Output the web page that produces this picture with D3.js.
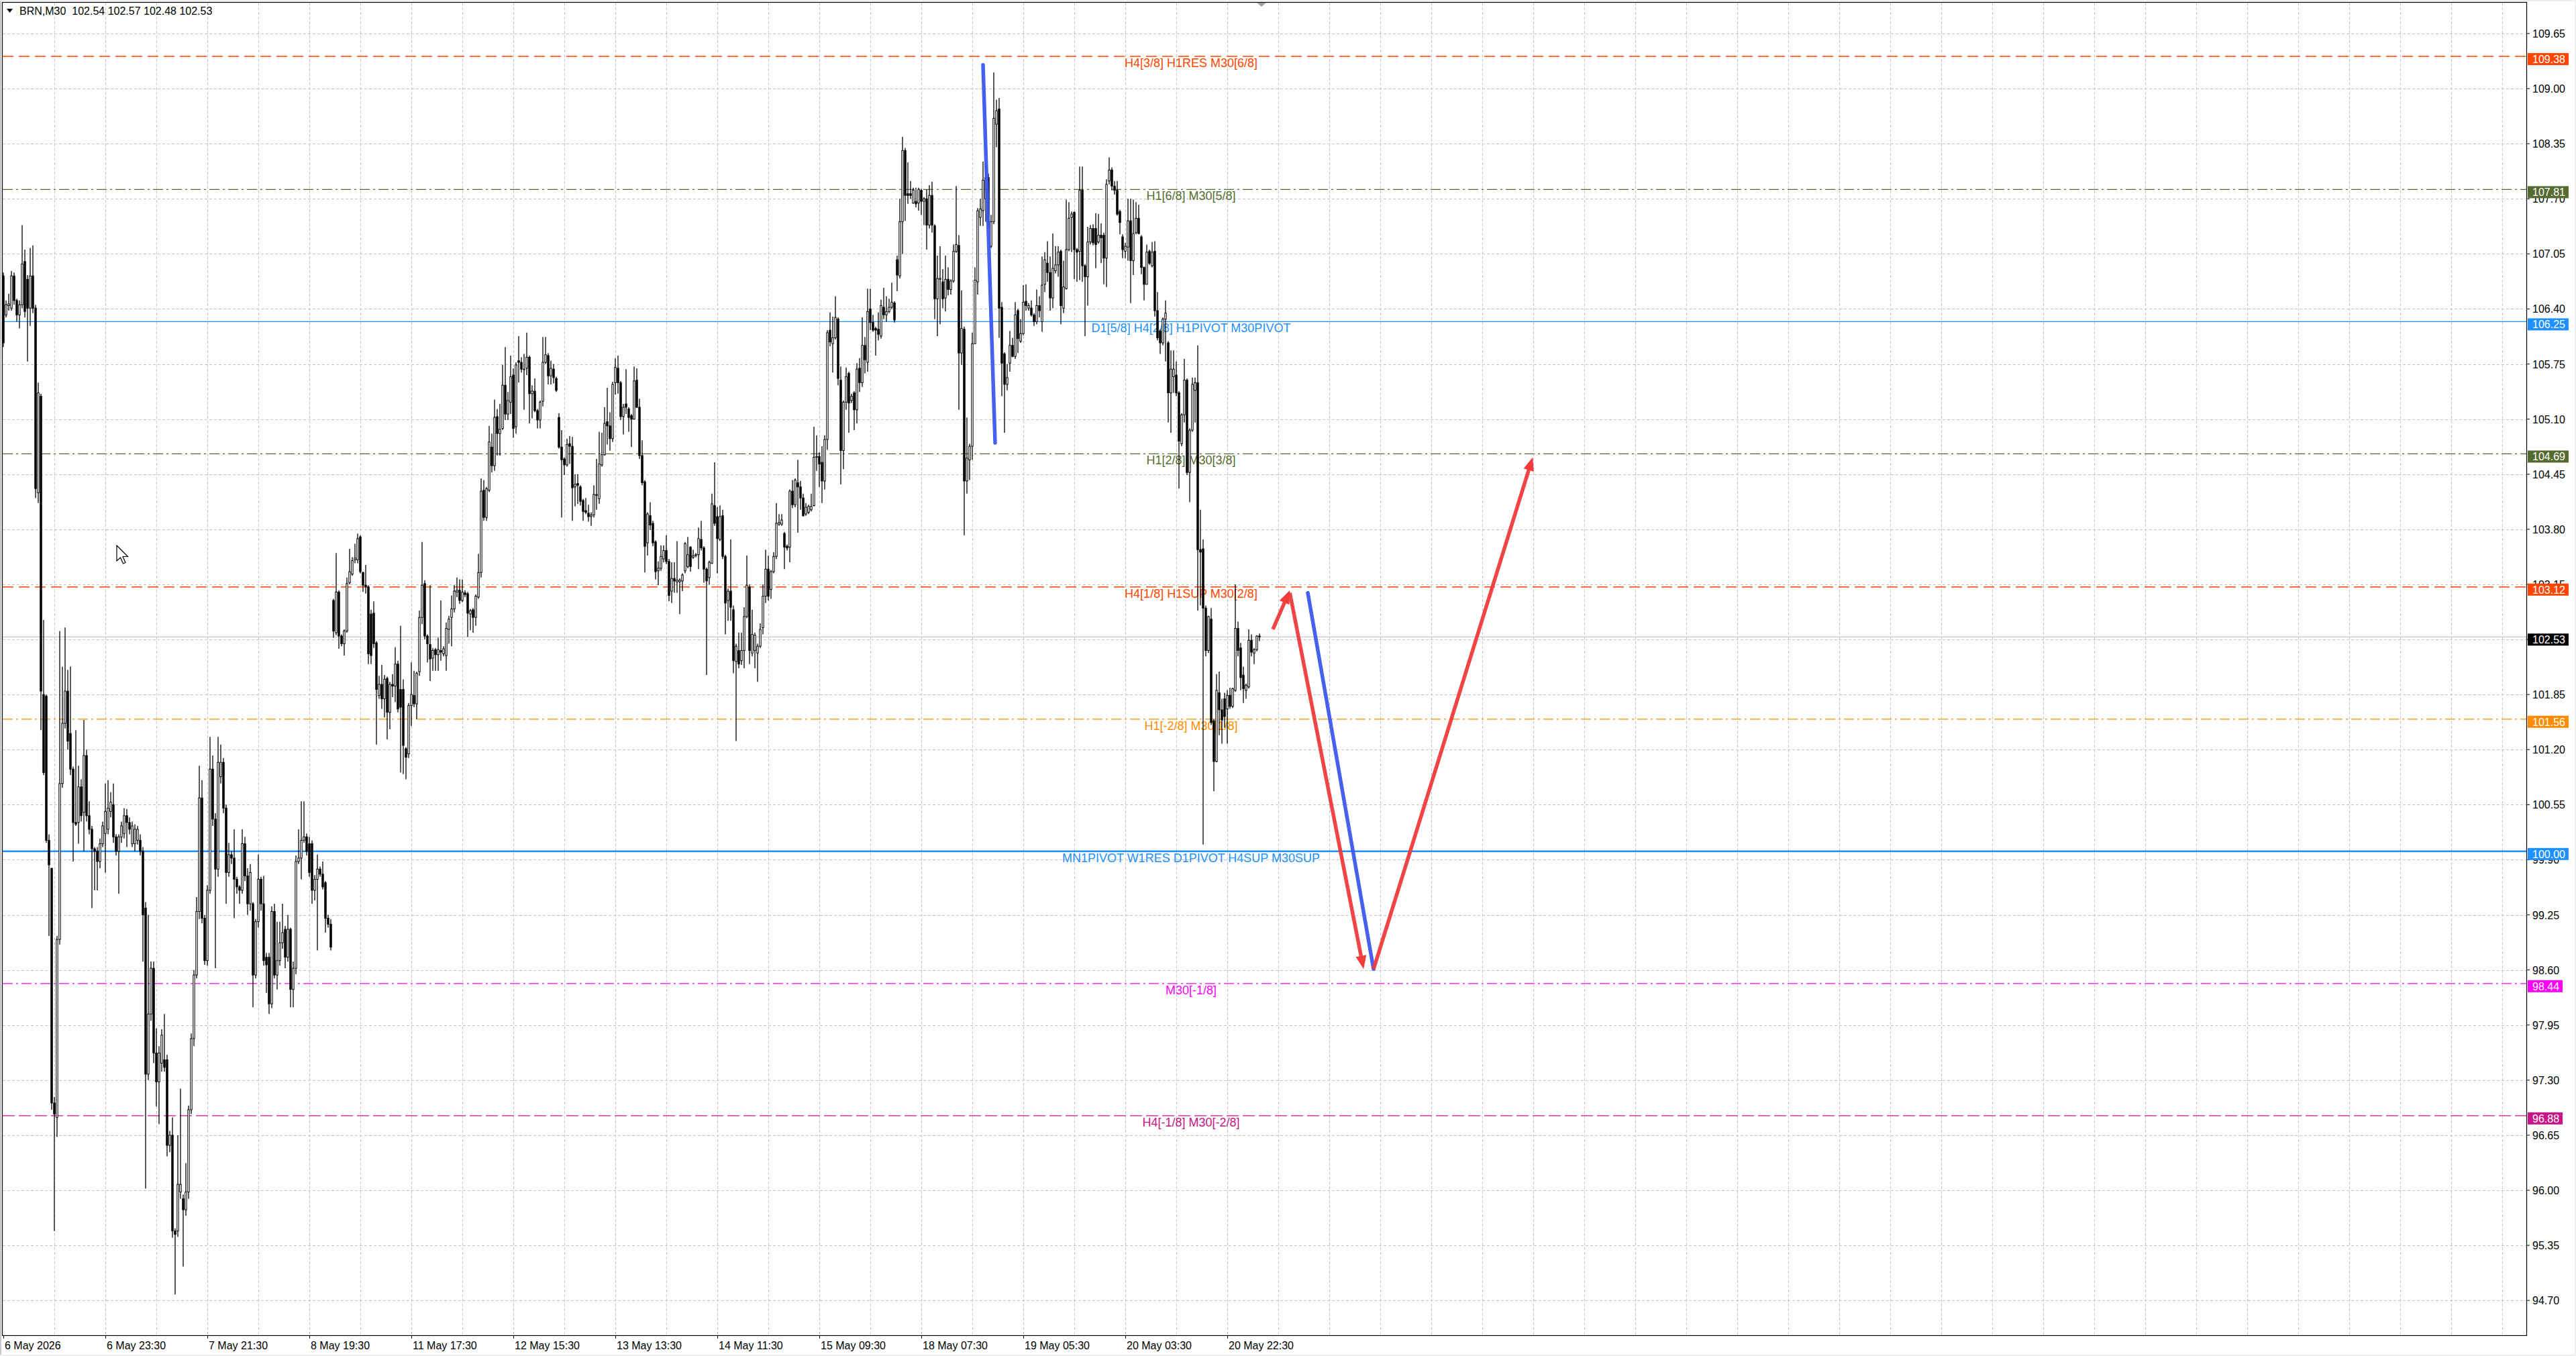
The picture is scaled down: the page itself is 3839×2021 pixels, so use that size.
<!DOCTYPE html>
<html>
<head>
<meta charset="utf-8">
<title>BRN,M30</title>
<script src="https://cdn.jsdelivr.net/npm/d3@7"></script>
<style>
  html, body { margin: 0; padding: 0; background: #f0f0f0; overflow: hidden; }
  svg { display: block; font-family: "Liberation Sans", Arial, sans-serif; }
</style>
</head>
<body>
<svg id="chart"></svg>
<script>
// ---- candles (M30 bars, index 0 = first bar on screen) ----
const opens = [
  106.79,106.33,106.44,106.41,106.79,106.50,106.33,106.45,106.96,106.75,
  106.41,106.79,106.41,104.23,105.37,101.85,101.83,100.13,99.80,97.03,
  96.86,98.96,100.80,101.51,101.89,101.39,100.97,100.34,100.34,100.76,
  100.46,101.13,100.42,100.26,100.03,100.00,99.88,100.09,100.21,100.26,
  100.47,100.55,100.17,100.00,100.17,100.21,100.42,100.34,100.09,100.09,
  100.13,100.13,100.00,99.33,97.37,98.08,98.62,97.62,97.28,97.50,
  97.54,97.54,96.53,96.65,95.52,95.52,95.98,95.90,95.77,95.98,
  96.95,97.79,98.54,99.29,100.63,99.21,98.71,99.54,100.97,100.38,
  99.79,100.88,101.05,100.51,99.75,99.96,99.92,99.67,99.58,99.54,
  100.09,99.71,99.38,99.38,98.54,99.17,99.67,99.38,98.75,98.75,
  98.20,99.29,98.54,98.71,98.92,99.08,98.75,99.08,98.37,98.62,
  99.88,99.92,100.13,100.17,100.09,100.09,99.54,99.67,99.79,99.73,
  99.63,99.21,99.14,102.96,102.58,103.06,102.54,102.45,102.60,103.17,
  103.27,103.44,103.44,103.71,103.29,103.14,103.12,102.80,102.81,102.46,
  101.84,101.97,101.80,102.04,101.64,101.97,101.95,102.21,101.91,101.91,
  101.21,101.15,101.72,101.84,101.74,102.12,102.76,103.16,102.54,102.44,
  102.28,102.38,102.32,102.37,102.33,102.31,102.62,102.76,102.86,103.06,
  103.08,102.96,103.05,103.04,102.80,102.85,102.76,103.00,103.29,104.26,
  103.94,104.26,104.77,104.55,105.13,104.93,104.99,105.50,105.16,105.30,
  105.62,105.01,105.79,105.77,105.69,105.70,105.83,105.40,105.43,105.20,
  105.09,105.31,105.77,105.85,105.61,105.69,105.58,105.12,104.77,104.63,
  104.56,104.81,104.78,104.30,104.34,104.30,104.14,104.02,103.99,103.95,
  103.97,104.20,104.16,104.56,104.68,105.07,105.02,104.87,105.53,105.70,
  105.53,105.13,105.28,105.22,105.14,105.10,105.56,105.24,104.67,104.36,
  103.64,103.96,103.87,103.65,103.31,103.34,103.45,103.55,103.42,103.07,
  103.22,103.18,103.18,103.19,103.31,103.36,103.59,103.47,103.49,103.50,
  103.68,103.58,103.33,103.23,103.40,104.08,103.95,103.68,103.96,103.48,
  102.96,103.07,102.85,102.24,102.37,102.25,102.37,102.77,103.12,102.34,
  102.37,102.34,102.42,102.64,103.01,103.33,103.09,103.30,103.48,103.86,
  103.86,103.75,103.60,103.59,104.25,104.09,104.35,104.30,104.17,103.98,
  104.00,104.03,104.08,104.65,104.66,104.59,104.37,104.86,106.15,105.99,
  106.06,106.28,105.56,104.73,105.30,105.64,105.32,105.41,105.21,105.70,
  105.53,105.97,105.77,106.40,106.24,106.17,106.16,106.08,106.42,106.33,
  106.37,106.42,106.47,106.98,106.79,107.43,108.27,107.76,107.76,107.65,
  107.67,107.65,107.80,107.67,107.70,107.39,107.74,107.38,106.52,106.75,
  106.72,106.53,106.75,106.63,106.73,107.08,107.15,105.88,106.16,104.37,
  104.62,104.78,105.99,106.72,107.48,107.56,107.70,107.95,107.14,107.43,
  108.58,108.76,106.42,105.87,105.51,105.76,105.97,105.84,106.38,106.02,
  106.11,106.49,106.41,106.41,106.33,106.25,106.44,106.25,106.69,106.94,
  106.83,106.53,106.85,106.92,107.08,106.41,106.64,107.10,107.48,107.54,
  107.10,107.08,107.80,106.91,106.78,107.19,107.35,107.35,107.19,107.27,
  107.27,107.00,107.91,108.04,107.85,107.80,107.55,107.25,107.08,107.13,
  107.44,106.97,107.30,107.47,107.25,106.89,106.69,107.08,106.91,107.08,
  106.38,106.14,106.00,106.28,106.00,105.41,105.60,105.62,105.41,104.81,
  105.15,105.56,104.47,104.97,105.44,105.53,103.56,103.57,102.87,102.37,
  102.74,101.54,101.06,101.87,101.67,101.80,101.68,101.84,101.71,101.90,
  102.63,102.40,102.08,101.90,101.94,102.49,102.34,102.38,102.54
];
const highs = [
  106.83,106.50,106.58,106.85,106.83,106.52,106.50,107.39,107.10,106.80,
  107.12,107.15,106.45,105.53,105.40,102.73,101.85,100.20,99.80,97.10,
  99.00,102.60,102.18,102.64,102.14,102.18,101.00,101.43,101.01,100.85,
  101.55,101.20,100.59,100.30,100.05,100.05,100.15,100.35,100.80,100.84,
  100.70,100.80,100.20,100.20,100.35,100.51,100.50,100.40,100.35,100.32,
  100.30,100.20,100.05,99.40,99.25,98.70,98.70,97.91,97.70,97.90,
  98.08,97.60,96.70,96.86,95.55,96.65,97.20,95.95,96.32,97.00,
  97.85,98.60,99.46,101.01,100.84,99.25,99.60,101.35,101.13,100.45,
  101.35,101.26,101.10,100.55,100.10,100.00,100.26,99.70,99.60,100.26,
  100.17,99.80,99.85,99.40,99.20,99.96,99.70,99.71,98.80,98.80,
  99.35,99.38,99.17,99.17,99.38,99.12,99.25,99.10,98.70,99.95,
  100.26,100.59,100.59,100.21,100.17,100.13,99.72,99.96,99.82,99.88,
  99.65,99.25,99.20,102.98,103.52,103.08,102.56,102.62,103.23,103.57,
  103.47,103.63,103.75,103.73,103.30,103.38,103.14,102.85,102.95,102.48,
  102.07,102.20,102.08,102.06,102.00,102.09,102.41,102.25,102.66,102.03,
  101.23,101.75,102.23,102.13,102.12,102.84,103.65,103.20,102.56,103.14,
  102.40,102.40,102.52,102.96,102.42,102.70,102.78,103.02,103.14,103.23,
  103.21,103.21,103.08,103.06,102.86,102.87,103.03,103.51,104.40,104.38,
  104.30,105.02,104.93,105.33,105.22,105.28,105.74,105.95,105.42,105.85,
  105.70,105.77,106.08,105.83,105.87,106.12,105.85,105.50,105.58,105.22,
  105.32,106.07,106.07,105.88,105.79,105.75,105.60,105.17,104.97,104.65,
  104.87,104.90,104.89,104.45,104.45,104.32,104.16,104.17,104.09,104.00,
  104.32,104.63,104.95,104.94,105.24,105.47,105.18,105.54,105.82,105.85,
  105.55,105.28,105.69,105.24,105.16,105.72,105.70,105.34,104.85,104.38,
  104.00,104.12,103.90,103.67,103.42,103.61,103.61,103.73,103.45,103.41,
  103.41,103.66,103.22,103.28,103.65,103.71,103.60,103.56,103.52,103.82,
  103.90,103.60,103.35,103.43,104.22,104.59,104.06,104.08,104.03,103.50,
  103.10,103.68,102.90,102.45,102.58,102.58,102.88,103.49,103.15,102.85,
  102.58,102.45,102.69,103.15,103.56,103.49,103.32,103.53,104.11,103.98,
  103.98,103.77,103.62,104.27,104.38,104.40,104.62,104.37,104.22,104.11,
  104.09,104.22,105.01,104.91,104.71,104.78,104.91,106.15,106.36,106.31,
  106.55,106.30,105.72,105.32,105.71,105.66,105.40,105.43,105.76,105.82,
  106.30,106.07,106.64,106.64,106.33,106.19,106.36,106.51,106.65,106.55,
  106.52,106.71,106.49,107.03,107.70,108.43,108.30,108.13,107.91,107.83,
  107.83,107.83,107.82,107.72,107.81,107.86,107.90,107.40,107.03,107.14,
  106.87,107.03,106.89,106.75,107.16,107.85,107.27,106.62,106.19,105.12,
  104.81,106.12,106.89,107.59,107.70,108.14,108.10,108.00,107.51,109.19,
  108.87,108.89,106.48,105.89,105.75,106.14,106.06,106.48,106.40,106.28,
  106.68,106.69,106.47,106.50,106.35,106.63,106.55,107.02,107.07,107.20,
  107.02,107.29,107.14,107.14,107.10,106.97,107.69,107.66,107.55,107.55,
  107.12,108.08,108.08,106.93,107.37,107.39,107.40,107.53,107.52,107.41,
  107.30,107.93,108.19,108.07,107.91,107.91,107.57,107.28,107.18,107.70,
  107.70,107.69,107.66,107.63,107.27,106.90,107.16,107.10,107.19,107.20,
  106.60,106.16,106.30,106.50,106.02,105.91,105.91,105.78,105.43,105.17,
  105.81,105.58,104.99,105.59,105.59,105.97,104.03,103.68,102.90,102.78,
  102.87,101.56,102.09,102.12,101.80,101.87,101.90,101.93,101.93,103.15,
  102.71,102.46,102.18,101.98,102.62,102.56,102.40,102.55,102.57
];
const lows = [
  105.95,106.30,106.38,106.38,106.45,106.25,106.17,106.41,106.30,105.78,
  106.20,106.35,104.17,104.11,101.43,100.90,100.10,99.00,96.95,95.52,
  96.63,98.90,100.75,101.45,101.20,100.90,99.88,100.30,100.09,100.35,
  100.00,100.35,100.20,99.33,99.54,99.54,99.80,100.05,99.75,100.20,
  100.40,100.10,99.95,99.50,100.10,100.15,100.05,100.20,100.05,100.00,
  100.08,99.95,98.70,96.02,97.30,98.00,97.50,96.99,96.78,97.40,
  97.40,96.40,96.45,95.44,94.77,95.45,95.90,95.10,95.70,95.90,
  96.90,97.70,98.50,99.20,99.15,98.66,98.65,99.50,100.30,98.62,
  99.70,100.80,100.45,99.38,99.70,99.85,99.21,99.50,99.38,99.50,
  99.65,99.25,99.30,98.16,98.50,99.10,99.30,98.65,98.33,98.08,
  98.15,98.50,98.37,98.65,98.85,98.62,98.70,98.16,98.16,98.55,
  99.85,99.67,100.10,99.95,99.70,99.38,99.42,98.83,99.70,99.55,
  99.04,99.10,98.83,102.52,102.55,102.39,102.42,102.31,102.58,103.15,
  103.25,103.40,103.40,103.28,103.06,103.04,102.21,102.21,102.40,101.26,
  101.80,101.68,101.58,101.32,101.44,101.82,101.76,101.64,100.93,100.91,
  100.85,101.10,101.48,101.70,101.56,102.07,102.68,102.50,102.23,102.01,
  102.13,102.13,102.13,102.25,102.30,102.13,102.45,102.42,102.82,103.00,
  102.92,102.94,103.00,102.53,102.61,102.58,102.66,102.98,103.23,103.90,
  103.90,104.24,104.47,104.49,104.67,104.67,104.97,105.09,105.09,105.16,
  104.88,104.93,105.53,105.65,105.21,105.62,105.05,105.11,105.18,104.99,
  104.99,105.25,105.75,105.51,105.51,105.52,105.42,104.75,103.94,104.44,
  104.54,104.57,103.90,104.07,104.10,104.08,103.90,103.98,103.89,103.84,
  103.94,104.03,104.10,104.54,104.67,104.80,104.73,104.83,105.39,105.40,
  105.09,104.92,105.16,104.95,104.77,105.10,105.23,104.63,104.32,103.29,
  103.49,103.79,103.60,103.21,103.14,103.31,103.41,103.39,102.95,102.93,
  103.05,103.05,102.80,103.07,103.28,103.34,103.30,103.45,103.47,103.33,
  103.55,103.17,102.08,103.15,103.39,103.84,103.28,103.66,103.45,102.56,
  102.72,102.72,102.10,101.30,102.16,102.20,102.16,102.75,102.21,102.30,
  102.16,102.00,102.40,102.56,102.93,102.96,102.98,103.28,103.45,103.84,
  103.84,103.33,103.55,103.41,104.05,104.06,103.76,104.03,103.95,103.96,
  103.98,104.01,104.07,104.49,104.30,104.11,104.27,104.74,105.96,105.65,
  106.04,105.50,104.33,104.51,105.21,104.94,105.29,104.97,105.05,105.42,
  105.48,105.64,105.66,106.15,106.13,105.85,106.03,106.05,106.28,106.25,
  106.35,106.40,106.24,106.61,106.76,107.05,107.44,107.64,107.70,107.64,
  107.60,107.56,107.51,107.39,107.10,107.35,107.30,106.28,106.08,106.22,
  106.41,106.37,106.56,106.57,106.71,107.06,105.21,105.74,103.73,104.22,
  104.38,104.62,105.99,106.57,107.38,107.38,107.43,107.35,107.12,107.40,
  108.31,106.06,105.37,104.94,105.44,105.66,105.83,105.81,105.88,106.00,
  106.09,106.38,106.38,106.31,106.20,106.22,106.30,106.13,106.60,106.72,
  106.38,106.41,106.82,106.78,106.22,106.35,106.63,107.08,107.07,106.75,
  106.72,106.74,106.72,106.08,106.44,107.16,107.15,106.88,107.17,106.94,
  106.69,106.66,107.87,107.80,107.75,107.50,107.28,107.00,107.00,106.97,
  106.47,106.80,107.28,107.28,106.81,106.50,106.69,106.92,106.89,106.31,
  106.03,105.87,105.97,105.78,105.06,104.94,105.41,105.37,104.28,104.78,
  105.06,104.44,104.12,104.95,105.06,102.84,102.90,100.08,102.30,102.34,
  101.49,100.71,101.05,101.37,101.27,101.46,101.27,101.68,101.69,101.88,
  102.30,101.90,101.75,101.80,101.92,102.30,102.21,102.36,102.48
];
const closes = [
  106.00,106.45,106.46,106.79,106.50,106.33,106.45,106.93,106.37,106.41,
  106.79,106.41,104.28,105.41,101.89,100.93,100.13,99.84,97.03,96.90,
  98.96,100.80,101.51,101.89,101.30,100.97,100.34,100.32,100.76,100.42,
  101.13,100.42,100.26,100.03,100.00,99.88,100.09,100.30,100.47,100.51,
  100.58,100.17,100.00,100.17,100.30,100.42,100.34,100.26,100.30,100.26,
  100.26,100.00,99.25,97.37,98.08,98.62,97.62,97.28,97.62,97.83,
  97.45,96.53,96.65,95.52,95.48,96.07,96.07,95.77,95.98,96.95,
  97.79,98.54,99.29,100.63,99.21,98.71,99.54,100.97,100.38,99.79,
  101.05,101.05,100.51,99.75,99.96,99.92,99.67,99.58,99.54,100.09,
  99.71,99.38,99.75,98.54,99.17,99.67,99.38,98.71,98.66,98.20,
  99.29,98.54,98.71,98.92,99.04,98.75,99.08,98.37,98.62,99.88,
  99.92,100.13,100.17,100.00,99.75,99.54,99.67,99.79,99.73,99.58,
  99.21,99.14,98.87,102.60,103.06,102.54,102.45,102.60,103.16,103.30,
  103.43,103.46,103.69,103.30,103.14,103.12,102.33,102.31,102.45,101.91,
  101.97,101.80,102.03,101.64,101.97,101.95,102.21,101.68,101.70,101.25,
  101.11,101.72,101.85,101.74,102.10,102.76,103.14,102.54,102.45,102.27,
  102.37,102.32,102.38,102.35,102.39,102.63,102.74,102.86,103.07,103.08,
  102.96,103.06,103.03,102.81,102.84,102.76,103.01,103.29,104.25,103.94,
  104.28,104.83,104.55,105.12,104.93,104.98,105.50,105.16,105.32,105.60,
  104.99,105.74,105.77,105.69,105.69,105.83,105.40,105.43,105.20,105.09,
  105.30,105.77,105.86,105.61,105.70,105.59,105.44,104.77,104.62,104.56,
  104.80,104.78,104.29,104.33,104.32,104.13,104.01,104.00,103.95,103.97,
  104.21,104.21,104.57,104.68,105.05,105.02,104.87,105.51,105.71,105.53,
  105.13,105.24,105.24,105.12,105.10,105.55,105.24,104.67,104.35,103.60,
  103.98,103.85,103.64,103.30,103.34,103.48,103.55,103.42,103.02,103.22,
  103.19,103.20,103.20,103.26,103.63,103.50,103.36,103.49,103.50,103.69,
  103.58,103.33,103.19,103.41,104.10,103.87,103.69,103.95,103.48,102.93,
  103.07,102.88,102.25,102.42,102.21,102.37,102.77,103.14,102.37,102.56,
  102.55,102.42,102.62,103.01,103.33,103.01,103.30,103.48,103.87,103.88,
  103.91,103.59,103.58,104.25,104.09,104.38,104.30,104.17,103.96,104.06,
  104.07,104.07,104.65,104.66,104.57,104.37,104.86,106.12,106.01,106.06,
  106.30,105.58,104.73,105.30,105.60,105.29,105.37,105.21,105.69,105.53,
  105.97,105.80,106.37,106.24,106.15,106.15,106.10,106.44,106.33,106.37,
  106.42,106.48,106.27,106.80,107.43,108.27,107.74,107.74,107.74,107.80,
  107.64,107.81,107.67,107.70,107.39,107.74,107.39,106.52,106.76,106.76,
  106.52,106.75,106.63,106.73,107.08,107.16,105.88,106.17,104.37,104.64,
  104.78,105.99,106.74,107.56,107.58,107.92,107.95,107.40,107.43,108.65,
  108.74,106.41,105.76,105.51,105.59,105.97,105.84,106.33,106.05,106.11,
  106.48,106.44,106.44,106.33,106.25,106.44,106.38,106.68,106.98,106.83,
  106.53,106.88,106.92,107.07,106.44,106.66,107.10,107.47,107.52,107.10,
  107.07,107.80,106.91,106.78,107.19,107.35,107.18,107.16,107.27,107.24,
  107.00,107.87,108.04,107.85,107.80,107.52,107.42,107.10,107.14,107.44,
  106.97,107.29,107.47,107.29,106.89,106.69,107.07,106.94,107.07,106.38,
  106.06,106.00,106.28,106.35,105.41,105.69,105.69,105.41,104.84,105.15,
  105.56,104.47,104.97,105.51,105.53,103.56,103.53,102.87,102.37,102.77,
  101.52,101.06,101.90,101.67,101.55,101.59,101.84,101.71,101.92,102.63,
  102.37,102.05,101.92,101.96,102.49,102.35,102.38,102.54,102.53
];

// ---- axes ----
const priceTicks = [109.65,109.00,108.35,107.70,107.05,106.40,105.75,105.10,104.45,103.80,
  103.15,102.50,101.85,101.20,100.55,99.90,99.25,98.60,97.95,97.30,96.65,96.00,95.35,94.70];
const timeLabels = ["6 May 2026","6 May 23:30","7 May 21:30","8 May 19:30","11 May 17:30",
  "12 May 15:30","13 May 13:30","14 May 11:30","15 May 09:30","18 May 07:30",
  "19 May 05:30","20 May 03:30","20 May 22:30"];
const timeLabelBars = [0,38,76,114,152,190,228,266,304,342,380,418,456];

// ---- murrey / pivot levels ----
const levelPrices = [109.38, 107.81, 106.25, 104.69, 103.12, 101.56, 100.00, 98.44, 96.88];
const levelNames = [
  "H4[3/8] H1RES M30[6/8]",
  "H1[6/8] M30[5/8]",
  "D1[5/8] H4[2/8] H1PIVOT M30PIVOT",
  "H1[2/8] M30[3/8]",
  "H4[1/8] H1SUP M30[2/8]",
  "H1[-2/8] M30[1/8]",
  "MN1PIVOT W1RES D1PIVOT H4SUP M30SUP",
  "M30[-1/8]",
  "H4[-1/8] M30[-2/8]"
];
const bidPrice = 102.53;
const headerText = "BRN,M30  102.54 102.57 102.48 102.53";

// ---- hand drawn trend lines: [bar, price] ----
const drawFrom = [[365.0, 109.28], [473.0, 102.62], [479.3, 103.05], [486.0, 103.05], [510.5, 98.61]];
const drawTo   = [[369.5, 104.82], [479.3, 103.08], [506.8, 98.61], [510.5, 98.61], [569.8, 104.65]];

// styles
const levelColors = ["#ff4500","#556b2f","#1e90ff","#556b2f","#ff4500","#ff8c00","#1e90ff","#ff00ff","#c71585"];
const levelDash = ["16,8","15,5,3,5",null,"15,5,3,5","16,8","15,5,3,5",null,"15,5,3,5","18,6"];
const levelWidth = [1.5,1.3,1.2,1.3,1.5,1.3,2.4,1.3,1.3];
const drawColors = ["#3d58ef","#f13c3c","#f13c3c","#3d58ef","#f13c3c"];
const drawArrow = [false,true,true,false,true];

const W = 3839, H = 2021;
const plot = {left: 4, top: 4, right: 3765, bottom: 1990};

const svg = d3.select("#chart").attr("width", W).attr("height", H);
svg.append("rect").attr("width", W).attr("height", H).attr("fill", "#f0f0f0");
svg.append("rect").attr("x", 2).attr("y", 2).attr("width", W - 4).attr("height", H - 4).attr("fill", "#fff");

const x = d3.scaleLinear().domain([0, 468]).range([5, 1877]);
const y = d3.scaleLinear().domain([94.70, 109.65]).range([1938.2, 50]);

svg.append("defs").append("clipPath").attr("id", "clip")
  .append("rect").attr("x", plot.left).attr("y", plot.top)
  .attr("width", plot.right - plot.left).attr("height", plot.bottom - plot.top);

const g = svg.append("g").attr("clip-path", "url(#clip)");

// grid
g.selectAll(".hgrid").data(priceTicks).enter().append("line")
  .attr("x1", plot.left).attr("x2", plot.right)
  .attr("y1", d => Math.round(y(d)) + 0.5).attr("y2", d => Math.round(y(d)) + 0.5)
  .attr("stroke", "#c4c4c4").attr("stroke-dasharray", "4,3");

const gridBars = d3.range(19, 941, 19);
g.selectAll(".vgrid").data(gridBars).enter().append("line")
  .attr("x1", d => Math.round(x(d)) + 0.5).attr("x2", d => Math.round(x(d)) + 0.5)
  .attr("y1", plot.top).attr("y2", plot.bottom)
  .attr("stroke", "#c4c4c4").attr("stroke-dasharray", "4,3");

// levels
levelPrices.forEach((p, i) => {
  const ln = g.append("line")
    .attr("x1", plot.left).attr("x2", plot.right)
    .attr("y1", y(p)).attr("y2", y(p))
    .attr("stroke", levelColors[i]).attr("stroke-width", levelWidth[i]);
  if (levelDash[i]) ln.attr("stroke-dasharray", levelDash[i]);
});
// bid line
g.append("line").attr("x1", plot.left).attr("x2", plot.right)
  .attr("y1", y(bidPrice)).attr("y2", y(bidPrice))
  .attr("stroke", "#b8b8b8").attr("stroke-width", 1);

// level labels
g.selectAll(".lvlText").data(levelPrices).enter().append("text")
  .attr("x", x(442.5)).attr("y", d => y(d) + 16)
  .attr("text-anchor", "middle")
  .attr("font-size", 18)
  .attr("fill", (d, i) => levelColors[i])
  .text((d, i) => levelNames[i]);

// candles
const n = Math.min(opens.length, highs.length, lows.length, closes.length);
const bars = d3.range(n).map(i => ({i, o: opens[i], h: highs[i], l: lows[i], c: closes[i]}));

const cg = g.append("g");
cg.selectAll(".wick").data(bars).enter().append("line")
  .attr("x1", d => x(d.i)).attr("x2", d => x(d.i))
  .attr("y1", d => y(d.h)).attr("y2", d => y(d.l))
  .attr("stroke", "#000").attr("stroke-width", 1.3);

cg.selectAll(".body").data(bars).enter().append("rect")
  .attr("x", d => x(d.i) - 1.2)
  .attr("width", 2.4)
  .attr("y", d => y(Math.max(d.o, d.c)))
  .attr("height", d => Math.max(0.6, Math.abs(y(d.o) - y(d.c))))
  .attr("fill", d => d.c < d.o ? "#000" : "#fff")
  .attr("stroke", "#000").attr("stroke-width", 1);

// drawn lines & arrows
drawFrom.forEach((a, i) => {
  const b = drawTo[i];
  const x1 = x(a[0]), y1 = y(a[1]), x2 = x(b[0]), y2 = y(b[1]);
  const len = Math.hypot(x2 - x1, y2 - y1);
  const ux = (x2 - x1) / len, uy = (y2 - y1) / len;
  const head = drawArrow[i] ? 20 : 0;
  g.append("line")
    .attr("x1", x1).attr("y1", y1)
    .attr("x2", x2 - ux * head * 0.8).attr("y2", y2 - uy * head * 0.8)
    .attr("stroke", drawColors[i]).attr("stroke-width", 5.5)
    .attr("stroke-linecap", drawArrow[i] ? "butt" : "round")
    .attr("opacity", 0.95);
  if (drawArrow[i]) {
    const bx = x2 - ux * head, by = y2 - uy * head;
    const px = -uy * 8, py = ux * 8;
    g.append("polygon")
      .attr("points", [[x2, y2], [bx + px, by + py], [bx - px, by - py]].map(p => p.join(",")).join(" "))
      .attr("fill", drawColors[i]);
  }
});

// mouse pointer
g.append("polygon")
  .attr("points", "174,813 174,836 179.5,831 183.5,840 187,838.5 183,829.5 190.5,829.5")
  .attr("fill", "#fff").attr("stroke", "#000").attr("stroke-width", 1.2);

// frame
svg.append("rect").attr("x", plot.left - 0.5).attr("y", plot.top - 0.5)
  .attr("width", plot.right - plot.left + 1).attr("height", plot.bottom - plot.top + 1)
  .attr("fill", "none").attr("stroke", "#000").attr("stroke-width", 1.2);
svg.append("line").attr("x1", 1).attr("x2", 1).attr("y1", 2).attr("y2", H - 2)
  .attr("stroke", "#a0a0a0");

// shift marker
svg.append("polygon").attr("points", "1873,4 1887,4 1880,10").attr("fill", "#a0a0a0");

// price axis
const ax = svg.append("g");
ax.selectAll(".tick").data(priceTicks).enter().append("line")
  .attr("x1", plot.right).attr("x2", plot.right + 5)
  .attr("y1", d => y(d)).attr("y2", d => y(d))
  .attr("stroke", "#000");
ax.selectAll(".tickLbl").data(priceTicks).enter().append("text")
  .attr("x", plot.right + 9).attr("y", d => y(d) + 6)
  .attr("font-size", 16).attr("fill", "#000")
  .text(d => d.toFixed(2));

// price tags
const tagPrices = levelPrices.concat([bidPrice]);
const tagColors = levelColors.concat(["#000"]);
tagPrices.forEach((p, i) => {
  const tg = ax.append("g");
  const t = tg.append("text").attr("x", plot.right + 9).attr("y", y(p) + 10)
    .attr("font-size", 16).attr("fill", "#fff").text(p.toFixed(2));
  const w = t.node().getComputedTextLength();
  tg.insert("rect", "text")
    .attr("x", plot.right + 2).attr("y", y(p) - 5)
    .attr("width", w + 12).attr("height", 18)
    .attr("fill", tagColors[i]);
});

// time axis
svg.selectAll(".tTick").data(timeLabelBars).enter().append("line")
  .attr("x1", d => Math.round(x(d)) + 0.5).attr("x2", d => Math.round(x(d)) + 0.5)
  .attr("y1", plot.bottom).attr("y2", plot.bottom + 5)
  .attr("stroke", "#000");
svg.selectAll(".tLbl").data(timeLabelBars).enter().append("text")
  .attr("x", d => x(d) + 2).attr("y", 2011)
  .attr("font-size", 16).attr("fill", "#000")
  .text((d, i) => timeLabels[i]);

// header
svg.append("polygon").attr("points", "10,13 19,13 14.5,19").attr("fill", "#000");
svg.append("text").attr("x", 29).attr("y", 22)
  .attr("font-size", 16).attr("fill", "#000")
  .style("white-space", "pre")
  .text(headerText);
</script>
</body>
</html>
